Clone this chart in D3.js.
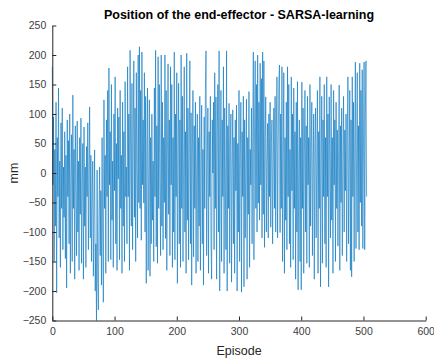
<!DOCTYPE html>
<html>
<head>
<meta charset="utf-8">
<script src="https://cdn.jsdelivr.net/npm/d3@7/dist/d3.min.js"></script>
<style>
  body { margin: 0; background: #fff; }
  svg { display: block; font-family: "Liberation Sans", Arial, sans-serif; }
  .axis path, .axis line { stroke: #262626; }
  .axis text { fill: #404040; font-size: 10.5px; }
</style>
</head>
<body>
<script>
var width = 434;
var height = 358;
var margin = {top: 25.5, right: 8.3, bottom: 37.5, left: 52.3};

var title = "Position of the end-effector - SARSA-learning";
var xLabel = "Episode";
var yLabel = "mm";
var xTicks = [0, 100, 200, 300, 400, 500, 600];
var yTicks = [-250, -200, -150, -100, -50, 0, 50, 100, 150, 200, 250];

// position per episode (episodes 0..505)
var position = [
  180, -20, 95, -150, 40, -90, 120, -203, 60, -40, 144, -110, 20, -160, 85, -60, 110, -130, 10, -75,
  70, -145, 30, -195, 90, -40, 55, -120, 100, -170, -10, 65, -150, 132, -60, 40, -180, 80, -25, -140,
  88, -100, 20, -165, 60, -70, 93, -153, -20, 50, -180, 78, -90, 10, -160, 45, -40, 85, -130, 0,
  112, -110, 30, -150, -40, 20, -175, -60, 39, -200, -120, -250, 5, -180, -232, -70, 10, -140, -30, -190,
  60, -100, -219, 124, -60, 30, -170, 90, -40, 140, -150, 178, -20, 70, -147, 150, -80, 20, -160, 100,
  -30, 163, -120, 50, -165, 110, -10, 95, -147, 140, -60, 30, -170, 120, -90, 70, -150, 155, -40, 10,
  -120, 180, -40, 100, -165, 208, 20, -90, 152, -130, 60, 190, -75, 110, -150, 170, 0, -110, 200, -50,
  214, -60, 140, -114, 205, -20, 90, -51, 170, -100, 130, -187, 40, 144, -165, 0, 124, -175, 60, -120,
  100, -80, 20, -150, 144, -40, 208, -125, 80, -153, 197, -60, 150, -10, -140, 200, -90, 120, -130, 60,
  -50, 200, -111, 140, -165, 30, 185, -70, 90, -140, 180, -20, 150, -160, 60, -100, 205, -147, 100, -40,
  170, -187, 40, 152, -120, 90, -160, 200, -60, 130, -150, 20, 180, -100, 70, -170, 203, -80, 110, -147,
  50, 190, -120, 102, -190, 30, 140, -142, 80, -60, 120, -170, 10, 100, -150, 60, -90, 130, -165, 20,
  115, -120, 40, -190, 95, -60, 140, 207, -140, 20, 110, -170, 70, -40, 130, -120, -180, 90, 0, 120,
  -130, 170, -60, 129, -180, 60, 150, -100, 207, -200, 30, 140, -150, 90, -40, 180, -170, 110, -10, -130,
  207, -200, 80, -60, 118, -153, 40, 100, -185, 10, 107, -120, 60, -170, 90, -30, 115, -200, 50, -100,
  140, -150, 30, 120, -202, 70, -40, 130, -193, 90, -110, 20, 125, -180, 60, -70, 138, -160, 40, -20,
  110, -120, 60, 205, -147, 80, 190, -60, 150, -100, 200, -51, 120, -80, 186, -20, 160, -110, 205, -70,
  190, -126, 60, 129, -100, 20, 84, -110, 100, -40, 120, -92, 50, 90, -120, 10, 110, -60, 130, -100,
  70, 163, -110, 40, 150, 183, -101, 100, -60, 180, -150, 30, 170, -170, 60, -80, 120, -130, 180, -40,
  150, -120, 40, -160, 163, -30, 100, -147, 144, -60, 70, -180, 120, -100, 155, -198, 20, 90, -150, 60,
  -198, 154, -60, 110, -170, 30, 140, -100, 80, -153, 130, -20, 60, -160, 150, -90, 40, 120, -140, 10,
  100, -180, 50, 110, -110, 20, 140, -170, 70, -60, 163, -193, 30, 130, -153, 90, -40, 150, -120, 60,
  -160, 163, -40, 100, -193, 129, 20, -110, 150, -80, 60, -170, 140, -20, 90, -150, 120, -60, 73, -124,
  40, 149, -165, 80, -50, 110, -140, 20, 130, -100, 73, -30, 100, -150, 60, 163, -120, 10, 140, -165,
  90, -176, 163, -40, 120, -150, 60, 188, -128, 30, 170, -100, 80, -130, 186, -50, 140, -90, 175, -128,
  40, 188, -130, 100, 190, -40
];

var svg = d3.select("body").append("svg")
  .attr("width", width).attr("height", height);

var x = d3.scaleLinear().domain([0, 600]).range([margin.left, width - margin.right]);
var y = d3.scaleLinear().domain([-250, 250]).range([height - margin.bottom, margin.top]);

// data line
var line = d3.line()
  .x(function (d, i) { return x(i); })
  .y(function (d) { return y(d); });

svg.append("path")
  .datum(position)
  .attr("d", line)
  .style("fill", "none")
  .style("stroke", "#0072BD")
  .style("stroke-width", 0.6)
  .style("stroke-linejoin", "miter");

// axes, ticks pointing inward like matlab
svg.append("g")
  .attr("class", "axis")
  .attr("transform", "translate(0," + (height - margin.bottom) + ")")
  .call(d3.axisBottom(x).tickValues(xTicks).tickSize(-4).tickPadding(7).tickSizeOuter(0))
  .selectAll("text").attr("dy", "0.71em");

svg.append("g")
  .attr("class", "axis")
  .attr("transform", "translate(" + margin.left + ",0)")
  .call(d3.axisLeft(y).tickValues(yTicks).tickSize(-4).tickPadding(6).tickSizeOuter(0));

svg.selectAll(".axis .domain").style("stroke-width", 1);

// labels
svg.append("text")
  .attr("x", (margin.left + width - margin.right) / 2)
  .attr("y", 18.5)
  .attr("text-anchor", "middle")
  .style("font-size", "12.5px")
  .style("font-weight", "bold")
  .style("fill", "#000")
  .text(title);

svg.append("text")
  .attr("x", (margin.left + width - margin.right) / 2)
  .attr("y", 355)
  .attr("text-anchor", "middle")
  .style("font-size", "12.5px")
  .style("fill", "#262626")
  .text(xLabel);

svg.append("text")
  .attr("transform", "translate(17.5," + (margin.top + height - margin.bottom) / 2 + ") rotate(-90)")
  .attr("text-anchor", "middle")
  .style("font-size", "12.5px")
  .style("fill", "#262626")
  .text(yLabel);
</script>
</body>
</html>
